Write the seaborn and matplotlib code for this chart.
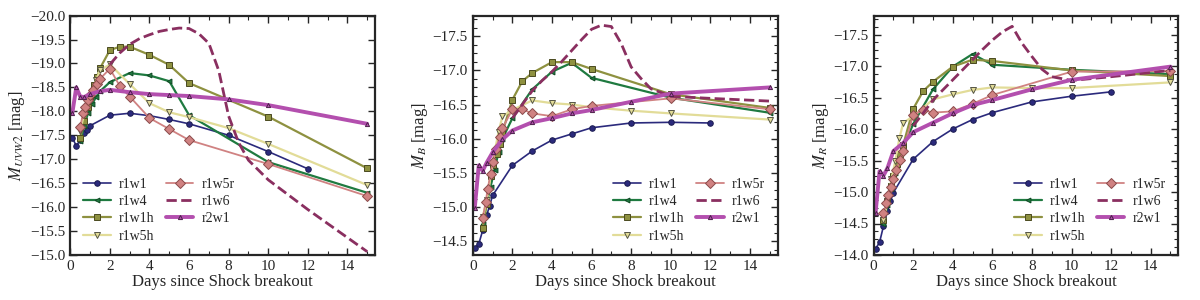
import numpy as np
import pandas as pd
import seaborn as sns
import matplotlib
matplotlib.use("Agg")
import matplotlib.pyplot as plt
from matplotlib.ticker import MultipleLocator

# ---- data ----
models = ["r1w1", "r1w4", "r1w1h", "r1w5h", "r1w5r", "r1w6", "r2w1"]

# r1w1
days_r1w1 = [0.1, 0.3, 0.5, 0.7, 0.85, 1.0, 2, 3, 4, 5, 6, 8, 10, 12]
uvw2_r1w1 = [-17.45, -17.28, -17.40, -17.54, -17.62, -17.70, -17.92, -17.96, -17.91, -17.83, -17.74, -17.50, -17.16, -16.80]
b_r1w1 = [-14.40, -14.46, -14.66, -14.88, -15.02, -15.17, -15.61, -15.82, -15.98, -16.07, -16.16, -16.23, -16.24, -16.23]
r_r1w1 = [-14.10, -14.20, -14.46, -14.70, -14.85, -14.99, -15.52, -15.80, -16.00, -16.15, -16.26, -16.43, -16.52, -16.59]

# r1w4
days_r1w4 = [0.5, 0.7, 0.9, 1.1, 1.3, 1.5, 2, 3, 4, 5, 6, 10, 15]
uvw2_r1w4 = [-17.38, -17.70, -17.97, -18.15, -18.30, -18.42, -18.61, -18.80, -18.75, -18.63, -17.92, -16.94, -16.30]
b_r1w4 = [-14.75, -15.05, -15.30, -15.55, -15.80, -16.00, -16.30, -16.72, -16.98, -17.11, -16.89, -16.60, -16.38]
r_r1w4 = [-14.50, -14.80, -15.05, -15.30, -15.50, -15.70, -16.08, -16.63, -16.99, -17.19, -17.02, -16.94, -16.87]

# r1w1h
days_r1w1h = [0.5, 0.7, 0.9, 1.0, 1.2, 1.35, 1.5, 2, 2.5, 3, 4, 5, 6, 10, 15]
uvw2_r1w1h = [-17.45, -17.80, -18.10, -18.31, -18.55, -18.72, -18.90, -19.28, -19.35, -19.35, -19.18, -18.97, -18.59, -17.89, -16.81]
b_r1w1h = [-14.70, -15.05, -15.46, -15.61, -15.78, -15.93, -16.10, -16.57, -16.84, -16.96, -17.12, -17.12, -17.02, -16.65, -16.45]
r_r1w1h = [-14.55, -14.85, -15.10, -15.25, -15.45, -15.60, -15.75, -16.32, -16.60, -16.75, -16.99, -17.10, -17.08, -16.93, -16.84]

# r1w5h
days_r1w5h = [0.5, 0.7, 0.9, 1.1, 1.3, 1.5, 2, 3, 4, 5, 6, 8, 10, 15]
uvw2_r1w5h = [-17.60, -17.95, -18.20, -18.40, -18.65, -18.86, -18.98, -18.57, -18.17, -17.98, -17.88, -17.65, -17.32, -16.46]
b_r1w5h = [-14.85, -15.10, -15.45, -15.80, -16.10, -16.33, -16.42, -16.56, -16.52, -16.50, -16.46, -16.41, -16.37, -16.28]
r_r1w5h = [-14.55, -14.85, -15.20, -15.50, -15.85, -16.10, -16.20, -16.47, -16.55, -16.62, -16.66, -16.65, -16.65, -16.74]

# r1w5r
days_r1w5r = [0.5, 0.65, 0.75, 0.9, 1.0, 1.15, 1.35, 1.5, 2, 2.5, 3, 4, 5, 6, 10, 15]
uvw2_r1w5r = [-17.68, -17.96, -18.10, -18.24, -18.35, -18.45, -18.57, -18.68, -18.89, -18.53, -18.31, -17.86, -17.63, -17.40, -16.90, -16.23]
b_r1w5r = [-14.84, -15.07, -15.27, -15.48, -15.66, -15.85, -16.02, -16.15, -16.43, -16.43, -16.37, -16.33, -16.43, -16.48, -16.59, -16.43]
r_r1w5r = [-14.67, -14.83, -14.96, -15.08, -15.20, -15.35, -15.51, -15.65, -16.23, -16.30, -16.26, -16.28, -16.40, -16.54, -16.91, -16.92]

# r1w6 (dashed)
days_r1w6 = [2, 2.5, 3, 3.5, 4, 4.5, 5, 5.5, 6, 6.5, 7, 7.5, 8, 8.5, 9, 10, 12, 15]
uvw2_r1w6 = [-18.98, -19.22, -19.40, -19.52, -19.60, -19.67, -19.71, -19.74, -19.73, -19.62, -19.42, -18.85, -17.90, -17.35, -16.98, -16.57, -15.95, -15.07]
b_r1w6 = [-16.30, -16.50, -16.70, -16.85, -16.98, -17.13, -17.29, -17.45, -17.60, -17.66, -17.64, -17.39, -17.05, -16.88, -16.73, -16.62, -16.59, -16.55]
r_r1w6 = [-16.05, -16.25, -16.46, -16.62, -16.78, -16.94, -17.10, -17.26, -17.41, -17.54, -17.63, -17.36, -17.15, -16.95, -16.83, -16.77, -16.83, -16.93]

# r2w1
days_r2w1 = [0.1, 0.3, 0.5, 0.7, 1.0, 1.5, 2, 3, 4, 5, 6, 8, 10, 15]
uvw2_r2w1 = [-17.96, -18.50, -18.31, -18.30, -18.36, -18.42, -18.45, -18.40, -18.36, -18.34, -18.32, -18.25, -18.13, -17.74]
b_r2w1 = [-14.99, -15.61, -15.53, -15.65, -15.80, -15.99, -16.12, -16.24, -16.30, -16.37, -16.42, -16.54, -16.66, -16.75]
r_r2w1 = [-14.67, -15.33, -15.26, -15.38, -15.65, -15.78, -15.95, -16.10, -16.25, -16.38, -16.46, -16.63, -16.78, -16.99]

days = [days_r1w1, days_r1w4, days_r1w1h, days_r1w5h, days_r1w5r, days_r1w6, days_r2w1]
bands = [
    ("$M_{UVW2}$ [mag]", [uvw2_r1w1, uvw2_r1w4, uvw2_r1w1h, uvw2_r1w5h, uvw2_r1w5r, uvw2_r1w6, uvw2_r2w1], (-15.0, -20.0), "lower left"),
    ("$M_B$ [mag]", [b_r1w1, b_r1w4, b_r1w1h, b_r1w5h, b_r1w5r, b_r1w6, b_r2w1], (-14.3, -17.8), "lower right"),
    ("$M_R$ [mag]", [r_r1w1, r_r1w4, r_r1w1h, r_r1w5h, r_r1w5r, r_r1w6, r_r2w1], (-14.0, -17.8), "lower right"),
]

# styles per model: colour, marker, markersize, linewidth, linestyle, marker edge
colors = ["#2b2a7c", "#1f7a40", "#8e9140", "#e2dc98", "#d08282", "#8a2f60", "#b34fae"]
markers = ["o", "<", "s", "v", "D", "", "^"]
msizes = [4, 3.5, 5, 4.5, 5, 0, 3]
lwidths = [1.2, 1.6, 1.6, 1.6, 1.3, 2.0, 2.8]
lstyles = ["-", "-", "-", "-", "-", "--", "-"]
edges = ["#1c1c50", "#114a25", "#4a4a20", "#555544", "#8a4a4a", "#8a2f60", "#4a2048"]

sns.set_style("ticks")
plt.rcParams["font.family"] = ["Liberation Serif", "DejaVu Serif"]
plt.rcParams["mathtext.fontset"] = "stix"
plt.rcParams["axes.linewidth"] = 1.6

fig = plt.figure(figsize=(12, 3), dpi=100)
lefts = [0.0586, 0.394, 0.728]
width = 0.254

for k, (ylab, mags, ylim, loc) in enumerate(bands):
    ax = fig.add_axes([lefts[k], 0.15, width, 0.798])
    for i, name in enumerate(models):
        kw = dict(color=colors[i], linewidth=lwidths[i], linestyle=lstyles[i])
        if markers[i]:
            kw.update(marker=markers[i], markersize=msizes[i],
                      markeredgecolor=edges[i], markeredgewidth=0.7)
        if lstyles[i] == "--":
            kw.update(dashes=(2.5, 2.0))
        sns.lineplot(x=days[i], y=mags[i], ax=ax, label=name,
                     sort=False, errorbar=None, **kw)
    ax.set_xlim(0, 15.4)
    ax.set_ylim(*ylim)
    ax.xaxis.set_major_locator(MultipleLocator(2))
    ax.xaxis.set_minor_locator(MultipleLocator(1))
    ax.yaxis.set_major_locator(MultipleLocator(0.5))
    if k > 0:
        ax.yaxis.set_minor_locator(MultipleLocator(0.125))
    ax.tick_params(which="both", direction="in", top=True, right=True, labelsize=11)
    ax.tick_params(which="major", length=5, width=1)
    ax.tick_params(which="minor", length=3, width=0.8)
    ax.set_xlabel("Days since Shock breakout", fontsize=12, labelpad=1)
    ax.set_ylabel(ylab, fontsize=12, labelpad=2)
    ax.legend(loc=loc, ncol=2, frameon=False, fontsize=10,
              handlelength=2.0, handletextpad=0.6, columnspacing=0.8,
              labelspacing=0.3, borderaxespad=0.5)

fig.savefig("out.png", dpi=100)
